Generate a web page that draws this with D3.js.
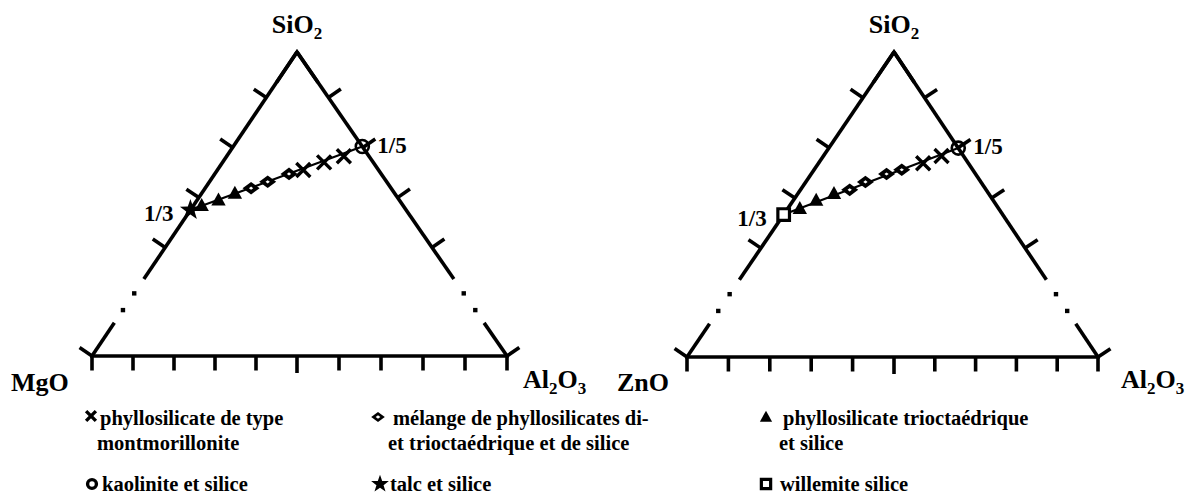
<!DOCTYPE html>
<html>
<head>
<meta charset="utf-8">
<script src="https://cdn.jsdelivr.net/npm/d3@7"></script>
<style>
  body { margin: 0; background: #fff; }
  svg { display: block; }
  text { font-family: "Liberation Serif", "Times New Roman", serif; font-weight: bold; fill: #000; }
</style>
</head>
<body>
<svg id="chart" width="1197" height="497"></svg>
<script>
// ---------------- DATA ----------------
// vertex oxides (left vertex of each diagram), top and right vertices
const leftOxides = ["MgO", "ZnO"];
const topOxide = ["SiO", "2"];
const rightOxide = ["Al", "2", "O", "3"];
const ratioLabels = ["1/3", "1/5"];

// ticks: fraction of SiO2 along the sides, Al2O3 fraction along the base
const sideTicks = [0.85, 0.686, 0.521, 0.357, 0];
const baseTicks = [0, 0.1, 0.2, 0.3, 0.4, 0.5, 0.6, 0.7, 0.8, 0.9, 1];
const breakSolidLow = 0.109, breakSolidHigh = 0.253;
const breakDots = [0.151, 0.206];

// Left diagram MgO–SiO2–Al2O3 : SiO2 and Al2O3 fractions
const mgTalcSi = [0.48],  mgTalcAl = [0];
const mgTriSi  = [0.495, 0.513, 0.535], mgTriAl = [0.020, 0.052, 0.081];
const mgDiaSi  = [0.552, 0.573, 0.599], mgDiaAl = [0.112, 0.142, 0.181];
const mgMontSi = [0.612, 0.637, 0.657], mgMontAl = [0.209, 0.246, 0.283];
const mgKaoSi  = [0.689], mgKaoAl = [0.311];

// Right diagram ZnO–SiO2–Al2O3
const znWilSi  = [0.467], znWilAl = [0];
const znTriSi  = [0.487, 0.514, 0.536], znTriAl = [0.029, 0.055, 0.087];
const znDiaSi  = [0.548, 0.574, 0.600, 0.614], znDiaAl = [0.119, 0.144, 0.182, 0.212];
const znMontSi = [0.635, 0.659], znMontAl = [0.254, 0.287];
const znKaoSi  = [0.685], znKaoAl = [0.315];

// Legend
const legendMarkers = ["cross", "diamond", "triangle", "circle", "star", "square"];
const legendLabels = [
  ["phyllosilicate de type", "montmorillonite"],
  ["mélange de phyllosilicates di-", "et trioctaédrique et de silice"],
  ["phyllosilicate trioctaédrique", "et silice"],
  ["kaolinite et silice"],
  ["talc et silice"],
  ["willemite silice"]
];

// ---------------- DRAWING ----------------
const svg = d3.select("#chart");

const zip = (si, al) => si.map((s, i) => ({si: s, al: al[i]}));

const panelsData = [
  { left: leftOxides[0], x0: 92, xa: 297, x1: 507, yb: 356, yt: 52,
    series: [
      {type: "star", pts: zip(mgTalcSi, mgTalcAl)},
      {type: "triangle", pts: zip(mgTriSi, mgTriAl)},
      {type: "diamond", pts: zip(mgDiaSi, mgDiaAl)},
      {type: "cross", pts: zip(mgMontSi, mgMontAl)},
      {type: "circle", pts: zip(mgKaoSi, mgKaoAl)}
    ],
    low: zip(mgTalcSi, mgTalcAl)[0], high: zip(mgKaoSi, mgKaoAl)[0],
    leftLabelX: 11, rightLabelX: 523 },
  { left: leftOxides[1], x0: 687, xa: 894, x1: 1098, yb: 357, yt: 52,
    series: [
      {type: "square", pts: zip(znWilSi, znWilAl)},
      {type: "triangle", pts: zip(znTriSi, znTriAl)},
      {type: "diamond", pts: zip(znDiaSi, znDiaAl)},
      {type: "cross", pts: zip(znMontSi, znMontAl)},
      {type: "circle", pts: zip(znKaoSi, znKaoAl)}
    ],
    low: zip(znWilSi, znWilAl)[0], high: zip(znKaoSi, znKaoAl)[0],
    leftLabelX: 617, rightLabelX: 1121 }
];

// marker shapes
function markerPath(type, k) {
  k = k || 1;
  switch (type) {
    case "cross": { const s = 7 * k; return `M${-s},${-s}L${s},${s}M${-s},${s}L${s},${-s}`; }
    case "diamond": { const w = 8.5 * k, h = 6.3 * k; return `M0,${-h}L${w},0L0,${h}L${-w},0Z`; }
    case "triangle": { const w = 7.2 * k; return `M0,${-7.5 * k}L${w},${5.5 * k}L${-w},${5.5 * k}Z`; }
    case "square": { const s = 5.8 * k; return `M${-s},${-s}H${s}V${s}H${-s}Z`; }
    case "circle": { const r = 6.5 * k; return `M${r},0A${r},${r} 0 1 1 ${-r},0A${r},${r} 0 1 1 ${r},0Z`; }
    case "star": {
      const R = 11 * k, r = 4.4 * k; let p = "";
      for (let i = 0; i < 10; i++) {
        const rad = i % 2 === 0 ? R : r;
        const ang = -Math.PI / 2 + i * Math.PI / 5;
        p += (i === 0 ? "M" : "L") + (rad * Math.cos(ang)).toFixed(2) + "," + (rad * Math.sin(ang)).toFixed(2);
      }
      return p + "Z";
    }
  }
}
function drawMarker(g, type, x, y, k, legend) {
  const m = g.append("path").attr("d", markerPath(type, k)).attr("transform", `translate(${x},${y})`);
  if (type === "cross") m.attr("fill", "none").attr("stroke", "#000").attr("stroke-width", 3.4);
  else if (type === "square") m.attr("fill", "#fff").attr("stroke", "#000").attr("stroke-width", 3.2);
  else if (type === "circle") m.attr("fill", legend ? "#fff" : "none").attr("stroke", "#000").attr("stroke-width", legend ? 3.4 : 2.6);
  else m.attr("fill", "#000").attr("stroke", "none");
  if (type === "diamond") {
    g.append("path").attr("d", markerPath("diamond", k * (legend ? 0.35 : 0.25))).attr("transform", `translate(${x},${y})`)
      .attr("fill", "#fff");
  }
  if (type === "circle" && !legend) {
    g.append("circle").attr("cx", x).attr("cy", y).attr("r", 1.5).attr("fill", "#000");
  }
}

panelsData.forEach(P => {
  const g = svg.append("g");
  const xS = d3.scaleLinear().domain([0, 0.5, 1]).range([P.x0, P.xa, P.x1]);
  const yS = d3.scaleLinear().domain([0, 1]).range([P.yb, P.yt]);
  const proj = (si, al) => [xS(al + si / 2), yS(si)];
  const line = d3.line();
  const lw = 3.6;

  const leftSide = a => proj(a, 0);          // MgO/ZnO – SiO2 side (no Al2O3)
  const rightSide = a => proj(a, 1 - a);     // SiO2 – Al2O3 side

  // base
  g.append("path").attr("d", line([proj(0, 0), proj(0, 1)]))
    .attr("stroke", "#000").attr("stroke-width", lw).attr("fill", "none").attr("stroke-linecap", "square");

  // sides with break
  [leftSide, rightSide].forEach(side => {
    g.append("path").attr("d", line([side(0), side(breakSolidLow)]))
      .attr("stroke", "#000").attr("stroke-width", lw).attr("fill", "none");
    g.append("path").attr("d", line([side(breakSolidHigh), side(1)]))
      .attr("stroke", "#000").attr("stroke-width", lw).attr("fill", "none");
    breakDots.forEach(a => {
      const [x, y] = side(a);
      g.append("rect").attr("x", x - 2.2).attr("y", y - 2.2).attr("width", 4.4).attr("height", 4.4).attr("fill", "#000");
    });
  });
  // apex join
  g.append("path").attr("d", line([leftSide(0.9), leftSide(1), rightSide(0.9)]))
    .attr("stroke", "#000").attr("stroke-width", lw).attr("fill", "none").attr("stroke-linejoin", "miter");

  // side ticks (outward normals)
  const tickLen = 15;
  function sideNormal(p0, p1, sign) {
    const dx = p1[0] - p0[0], dy = p1[1] - p0[1], L = Math.hypot(dx, dy);
    return sign < 0 ? [dy / L, -dx / L] : [-dy / L, dx / L];
  }
  const nL = sideNormal(leftSide(0), leftSide(1), -1);
  const nR = sideNormal(rightSide(0), rightSide(1), 1);
  sideTicks.forEach(a => {
    const pl = leftSide(a), pr = rightSide(a);
    g.append("path").attr("d", line([pl, [pl[0] + nL[0] * tickLen, pl[1] + nL[1] * tickLen]]))
      .attr("stroke", "#000").attr("stroke-width", lw);
    g.append("path").attr("d", line([pr, [pr[0] + nR[0] * tickLen, pr[1] + nR[1] * tickLen]]))
      .attr("stroke", "#000").attr("stroke-width", lw);
  });
  // base ticks
  baseTicks.forEach((b, i) => {
    const [x, y] = proj(0, b);
    g.append("path").attr("d", line([[x, y], [x, y + (i === 5 ? 17 : 14.5)]]))
      .attr("stroke", "#000").attr("stroke-width", lw);
  });

  // tie line
  g.append("path").attr("d", line([proj(P.low.si, P.low.al), proj(P.high.si, P.high.al)]))
    .attr("stroke", "#000").attr("stroke-width", 2.2).attr("fill", "none");

  // markers
  P.series.forEach(s => {
    s.pts.forEach(d => {
      const [x, y] = proj(d.si, d.al);
      drawMarker(g, s.type, x, y, 1, false);
    });
  });

  // ratio labels
  const pLow = proj(P.low.si, P.low.al), pHigh = proj(P.high.si, P.high.al);
  g.append("text").attr("x", pLow[0] - 17).attr("y", pLow[1] + 11).attr("text-anchor", "end")
    .attr("font-size", 23).text(ratioLabels[0]);
  g.append("text").attr("x", pHigh[0] + 15).attr("y", pHigh[1] + 6).attr("text-anchor", "start")
    .attr("font-size", 23).text(ratioLabels[1]);

  // vertex labels
  const top = g.append("text").attr("x", xS(0.5)).attr("y", 33).attr("text-anchor", "middle").attr("font-size", 26);
  top.append("tspan").text(topOxide[0]);
  top.append("tspan").attr("font-size", 17).attr("dy", 6).text(topOxide[1]);

  g.append("text").attr("x", P.leftLabelX).attr("y", 391).attr("font-size", 26).text(P.left);

  const rt = g.append("text").attr("x", P.rightLabelX).attr("y", 388).attr("font-size", 26);
  rt.append("tspan").text(rightOxide[0]);
  rt.append("tspan").attr("font-size", 17).attr("dy", 6).text(rightOxide[1]);
  rt.append("tspan").attr("dy", -6).text(rightOxide[2]);
  rt.append("tspan").attr("font-size", 17).attr("dy", 6).text(rightOxide[3]);
});

// legend
const legendPos = [
  {mx: 91, my: 416, tx: 100, ty: 425, tx2: 97},
  {mx: 378, my: 417, tx: 393, ty: 425, tx2: 388},
  {mx: 766, my: 417, tx: 783, ty: 425, tx2: 779},
  {mx: 92, my: 484, tx: 102, ty: 491},
  {mx: 380, my: 484, tx: 390, ty: 491},
  {mx: 766, my: 484, tx: 780, ty: 491}
];
const legendScale = {cross: 0.7, diamond: 0.8, triangle: 0.85, circle: 0.68, star: 0.85, square: 0.8};
const lg = svg.append("g");
legendMarkers.forEach((type, i) => {
  const p = legendPos[i];
  drawMarker(lg, type, p.mx, p.my, legendScale[type], true);
  legendLabels[i].forEach((t, j) => {
    lg.append("text").attr("x", j === 0 ? p.tx : p.tx2).attr("y", p.ty + j * 25)
      .attr("font-size", 20.5).text(t);
  });
});
</script>
</body>
</html>
